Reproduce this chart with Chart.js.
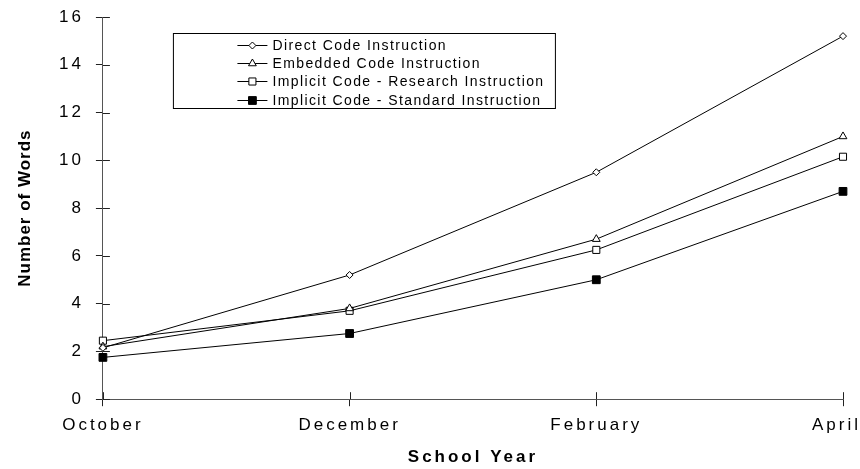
<!DOCTYPE html>
<html>
<head>
<meta charset="utf-8">
<script src="https://cdn.jsdelivr.net/npm/chart.js@4/dist/chart.umd.min.js"></script>
<style>
  html, body { margin: 0; padding: 0; background: #fff; }
  #wrap { width: 860px; height: 469px; }
</style>
</head>
<body>
<div id="wrap"><canvas id="wordsChart"></canvas></div>
<script>
// --- Data ---
const months = ["October", "December", "February", "April"];
const directCode = [2.15, 5.2, 9.5, 15.2];
const embeddedCode = [2.2, 3.8, 6.7, 11.0];
const implicitResearch = [2.45, 3.7, 6.25, 10.15];
const implicitStandard = [1.75, 2.75, 5.0, 8.7];
const yTicks = [0, 2, 4, 6, 8, 10, 12, 14, 16];

const FONT = "'Liberation Sans', Arial, sans-serif";

// --- Letter spacing + inner tick halves + legend + y title ---
const decorPlugin = {
  id: "decor",
  beforeUpdate(chart) { chart.ctx.letterSpacing = "3px"; },
  beforeLayout(chart) { chart.ctx.letterSpacing = "3px"; },
  beforeDraw(chart) {
    chart.ctx.letterSpacing = "3px";
    // last x label sits inside the canvas, right aligned (like the original)
    const xs = chart.scales.x;
    const items = xs.getLabelItems();
    const last = items[items.length - 1];
    if (last) {
      last.options.textAlign = "right";
      last.options.translation[0] = chart.width + 1;
    }
  },
  afterDraw(chart) {
    const ctx = chart.ctx;
    const { left, bottom, top } = chart.chartArea;
    const xs = chart.scales.x, ys = chart.scales.y;

    // inner half of the tick marks
    ctx.save();
    ctx.strokeStyle = "#222";
    ctx.lineWidth = 1;
    ctx.beginPath();
    ys.ticks.forEach((t, i) => {
      const y = Math.round(ys.getPixelForTick(i)) + 0.5;
      ctx.moveTo(left, y); ctx.lineTo(left + 7, y);
    });
    xs.ticks.forEach((t, i) => {
      const x = Math.round(xs.getPixelForTick(i)) + 0.5;
      ctx.moveTo(x, bottom); ctx.lineTo(x, bottom - 7);
    });
    ctx.stroke();

    // y title
    ctx.letterSpacing = "1px";
    ctx.fillStyle = "#000";
    ctx.font = "bold 17px " + FONT;
    ctx.translate(25, (top + bottom) / 2);
    ctx.rotate(-Math.PI / 2);
    ctx.textAlign = "center";
    ctx.textBaseline = "middle";
    ctx.fillText("Number of Words", 0, 0);
    ctx.restore();

    // legend box
    ctx.save();
    const bx = left + 70.5, by = top + 16.5, bw = 382, bh = 75;
    ctx.fillStyle = "#fff";
    ctx.fillRect(bx, by, bw, bh);
    ctx.strokeStyle = "#000";
    ctx.lineWidth = 1;
    ctx.strokeRect(bx, by, bw, bh);
    ctx.letterSpacing = "1.4px";
    ctx.font = "14px " + FONT;
    ctx.textBaseline = "middle";
    ctx.textAlign = "left";
    chart.data.datasets.forEach((ds, i) => {
      const ry = Math.round(by + 11 + i * 18.4) + 0.5;
      const lx0 = bx + 64, lx1 = bx + 94;
      ctx.strokeStyle = "#000";
      ctx.beginPath();
      ctx.moveTo(lx0, ry); ctx.lineTo(lx1, ry);
      ctx.stroke();
      if (Chart.helpers && Chart.helpers.drawPoint) {
        ctx.fillStyle = ds.pointBackgroundColor;
        ctx.strokeStyle = "#000";
        Chart.helpers.drawPoint(ctx, {
          pointStyle: ds.pointStyle, radius: ds.pointRadius, borderWidth: 1
        }, (lx0 + lx1) / 2, ry);
      }
      ctx.fillStyle = "#000";
      ctx.fillText(ds.label, lx1 + 5, ry + 1);
    });
    ctx.restore();
  }
};

function series(label, data, style, radius, fill) {
  return {
    label, data,
    borderColor: "#000",
    borderWidth: 1,
    pointStyle: style,
    pointRadius: radius,
    pointBorderWidth: 1,
    pointBorderColor: "#000",
    pointBackgroundColor: fill,
    tension: 0,
    fill: false
  };
}

const ctx = document.getElementById("wordsChart").getContext("2d");
const chart = new Chart(ctx, {
  type: "line",
  data: {
    labels: months,
    datasets: [
      series("Direct Code Instruction", directCode, "rectRot", 3.5, "#fff"),
      series("Embedded Code Instruction", embeddedCode, "triangle", 4.5, "#fff"),
      series("Implicit Code - Research Instruction", implicitResearch, "rect", 5, "#fff"),
      series("Implicit Code - Standard Instruction", implicitStandard, "rect", 5.5, "#000")
    ]
  },
  options: {
    responsive: true,
    maintainAspectRatio: false,
    animation: false,
    events: [],
    layout: { padding: { left: 47, right: 17, top: 0, bottom: 0 } },
    plugins: { legend: { display: false }, tooltip: { enabled: false } },
    scales: {
      x: {
        type: "category",
        offset: false,
        grid: { drawOnChartArea: false, drawTicks: true, tickLength: 7, color: "#222" },
        border: { display: true, color: "#555", width: 1 },
        ticks: { color: "#000", font: { family: FONT, size: 17 }, padding: 9, maxRotation: 0 },
        title: {
          display: true, text: "School Year", color: "#000",
          font: { family: FONT, size: 17, weight: "bold" },
          padding: { top: 3, bottom: 1 }
        },
        afterFit(s) { s.paddingRight = 0; s.paddingLeft = 0; }
      },
      y: {
        min: 0, max: 16,
        afterBuildTicks(s) { s.ticks = yTicks.map(v => ({ value: v })); },
        afterFit(s) { s.paddingTop = 17; },
        grid: { drawOnChartArea: false, drawTicks: true, tickLength: 7, color: "#222" },
        border: { display: true, color: "#555", width: 1 },
        ticks: { color: "#000", font: { family: FONT, size: 17 }, padding: 12 }
      }
    }
  },
  plugins: [decorPlugin]
});
</script>
</body>
</html>
